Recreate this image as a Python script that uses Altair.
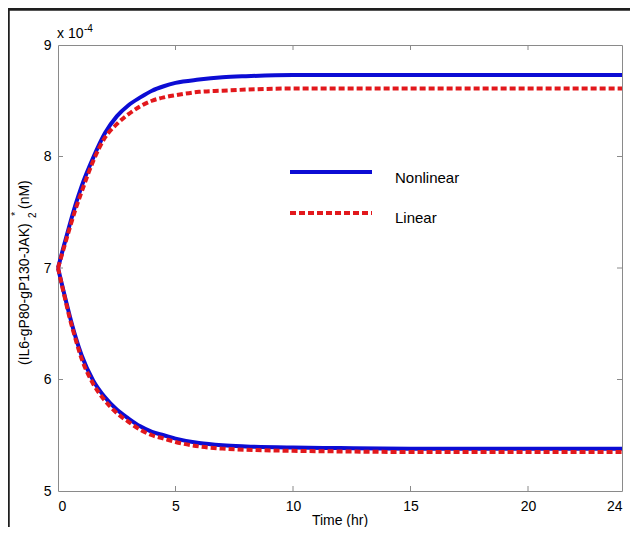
import altair as alt
import pandas as pd

# ---- data ----
t = [0, 0.25, 0.5, 0.75, 1, 1.5, 2, 2.5, 3, 3.5, 4, 4.5, 5, 6, 7, 8, 10, 12, 15, 20, 24]
upper_nonlinear = [7.00, 7.20, 7.39, 7.57, 7.73, 7.99, 8.21, 8.36, 8.46, 8.53, 8.59, 8.63, 8.66, 8.69, 8.71, 8.72, 8.73, 8.73, 8.73, 8.73, 8.73]
upper_linear = [7.00, 7.18, 7.36, 7.53, 7.68, 7.96, 8.17, 8.29, 8.38, 8.45, 8.50, 8.53, 8.55, 8.58, 8.59, 8.60, 8.61, 8.61, 8.61, 8.61, 8.61]
lower_nonlinear = [7.00, 6.78, 6.57, 6.38, 6.22, 5.99, 5.84, 5.73, 5.65, 5.58, 5.53, 5.50, 5.47, 5.43, 5.41, 5.40, 5.39, 5.385, 5.38, 5.38, 5.38]
lower_linear = [7.00, 6.77, 6.55, 6.36, 6.19, 5.96, 5.81, 5.70, 5.62, 5.55, 5.50, 5.47, 5.44, 5.40, 5.38, 5.37, 5.36, 5.355, 5.35, 5.35, 5.35]

x_ticks = [0, 5, 10, 15, 20, 24]
x_inner_ticks = [5, 10, 15, 20]
y_ticks = [5, 6, 7, 8, 9]
y_inner_ticks = [6, 7, 8]
legend_labels = ["Nonlinear", "Linear"]
x_title = "Time (hr)"

FONT = "Liberation Sans"
BLUE = "#0c0cd4"
RED = "#e2181c"
GRAY = "#8a8a8a"
W, H = 564, 446

rows = []
for name, branch, vals in [("Nonlinear", "up", upper_nonlinear), ("Nonlinear", "low", lower_nonlinear),
                           ("Linear", "up", upper_linear), ("Linear", "low", lower_linear)]:
    for ti, vi in zip(t, vals):
        rows.append({"t": ti, "v": vi, "model": name, "branch": branch})
df = pd.DataFrame(rows)

xs = alt.Scale(domain=[0, 24], nice=False, zero=False)
ys = alt.Scale(domain=[5, 9], nice=False, zero=False)
xaxis = alt.Axis(values=x_ticks, title=None, labelPadding=8)
yaxis = alt.Axis(values=y_ticks, title=None, labelPadding=7)

def X():
    return alt.X("t:Q", scale=xs, axis=xaxis)

def Y():
    return alt.Y("v:Q", scale=ys, axis=yaxis)

nl = alt.Chart(df).transform_filter(alt.datum.model == "Nonlinear").mark_line(
    color=BLUE, strokeWidth=4, interpolate="monotone"
).encode(x=X(), y=Y(), detail="branch:N")

lin = alt.Chart(df).transform_filter(alt.datum.model == "Linear").mark_line(
    color=RED, strokeWidth=4, strokeDash=[6, 3], interpolate="monotone"
).encode(x=X(), y=Y(), detail="branch:N")

# inward ticks
xt = pd.DataFrame({"t": x_inner_ticks})
yt = pd.DataFrame({"v": y_inner_ticks})
xt_bottom = alt.Chart(xt).mark_rule(color=GRAY, strokeWidth=1).encode(x=X(), y=alt.value(H), y2=alt.value(H - 5))
xt_top = alt.Chart(xt).mark_rule(color=GRAY, strokeWidth=1).encode(x=X(), y=alt.value(0), y2=alt.value(5))
yt_left = alt.Chart(yt).mark_rule(color=GRAY, strokeWidth=1).encode(y=Y(), x=alt.value(0), x2=alt.value(5))
yt_right = alt.Chart(yt).mark_rule(color=GRAY, strokeWidth=1).encode(y=Y(), x=alt.value(W - 5), x2=alt.value(W))

# legend (drawn inside the plot)
leg_df = pd.DataFrame({"label": legend_labels})
leg_blue = alt.Chart(leg_df).mark_rule(color=BLUE, strokeWidth=4).encode(
    x=alt.value(232), x2=alt.value(314), y=alt.value(127))
leg_red = alt.Chart(leg_df).mark_rule(color=RED, strokeWidth=4, strokeDash=[6, 3]).encode(
    x=alt.value(232), x2=alt.value(314), y=alt.value(168))
leg_t1 = alt.Chart(pd.DataFrame({"label": [legend_labels[0]]})).mark_text(
    font=FONT, fontSize=15, align="left", baseline="middle", color="black"
).encode(x=alt.value(337), y=alt.value(133), text="label:N")
leg_t2 = alt.Chart(pd.DataFrame({"label": [legend_labels[1]]})).mark_text(
    font=FONT, fontSize=15, align="left", baseline="middle", color="black"
).encode(x=alt.value(337), y=alt.value(173), text="label:N")

# x title
xtitle = alt.Chart(pd.DataFrame({"s": [x_title]})).mark_text(
    font=FONT, fontSize=14, align="center", baseline="middle", color="black"
).encode(x=alt.value(W / 2), y=alt.value(H + 30), text="s:N")

# exponent label
exp_main = alt.Chart(pd.DataFrame({"s": ["x 10"]})).mark_text(
    font=FONT, fontSize=14, align="left", baseline="middle", color="black"
).encode(x=alt.value(-1), y=alt.value(-11), text="s:N")
exp_sup = alt.Chart(pd.DataFrame({"s": ["-4"]})).mark_text(
    font=FONT, fontSize=10, align="left", baseline="middle", color="black"
).encode(x=alt.value(26), y=alt.value(-16), text="s:N")

# y title pieces
ytitle_main = alt.Chart(pd.DataFrame({"s": ["(IL6-gP80-gP130-JAK)"]})).mark_text(
    font=FONT, fontSize=14, align="left", baseline="middle", angle=270, color="black"
).encode(x=alt.value(-33), y=alt.value(320), text="s:N")
ytitle_sub = alt.Chart(pd.DataFrame({"s": ["2"]})).mark_text(
    font=FONT, fontSize=10, align="left", baseline="middle", angle=270, color="black"
).encode(x=alt.value(-25), y=alt.value(173), text="s:N")
ytitle_star = alt.Chart(pd.DataFrame({"s": ["*"]})).mark_text(
    font=FONT, fontSize=11, align="left", baseline="middle", angle=270, color="black"
).encode(x=alt.value(-42), y=alt.value(171), text="s:N")
ytitle_unit = alt.Chart(pd.DataFrame({"s": ["(nM)"]})).mark_text(
    font=FONT, fontSize=14, align="left", baseline="middle", angle=270, color="black"
).encode(x=alt.value(-33), y=alt.value(164), text="s:N")

# outer frame of the figure
frame_left = alt.Chart(leg_df).mark_rule(color="#1e1e1e", strokeWidth=3).encode(
    x=alt.value(-50), y=alt.value(-37), y2=alt.value(H + 36))
frame_top = alt.Chart(leg_df).mark_rule(color="#1e1e1e", strokeWidth=3).encode(
    y=alt.value(-36), x=alt.value(-50), x2=alt.value(W + 8))

chart = alt.layer(
    xt_bottom, xt_top, yt_left, yt_right,
    nl, lin,
    leg_blue, leg_red, leg_t1, leg_t2,
    xtitle, exp_main, exp_sup,
    ytitle_main, ytitle_sub, ytitle_star, ytitle_unit,
    frame_left, frame_top,
).properties(
    width=W, height=H,
    autosize=alt.AutoSizeParams(type="none"),
    padding={"left": 50, "top": 37, "right": 8, "bottom": 36},
    background="white",
).configure_view(
    stroke=GRAY, strokeWidth=1
).configure_axis(
    domain=False, ticks=False, grid=False,
    labelFont=FONT, labelFontSize=14, labelColor="black",
)

chart.save("out.html", embed_options={"renderer": "svg", "actions": False})
